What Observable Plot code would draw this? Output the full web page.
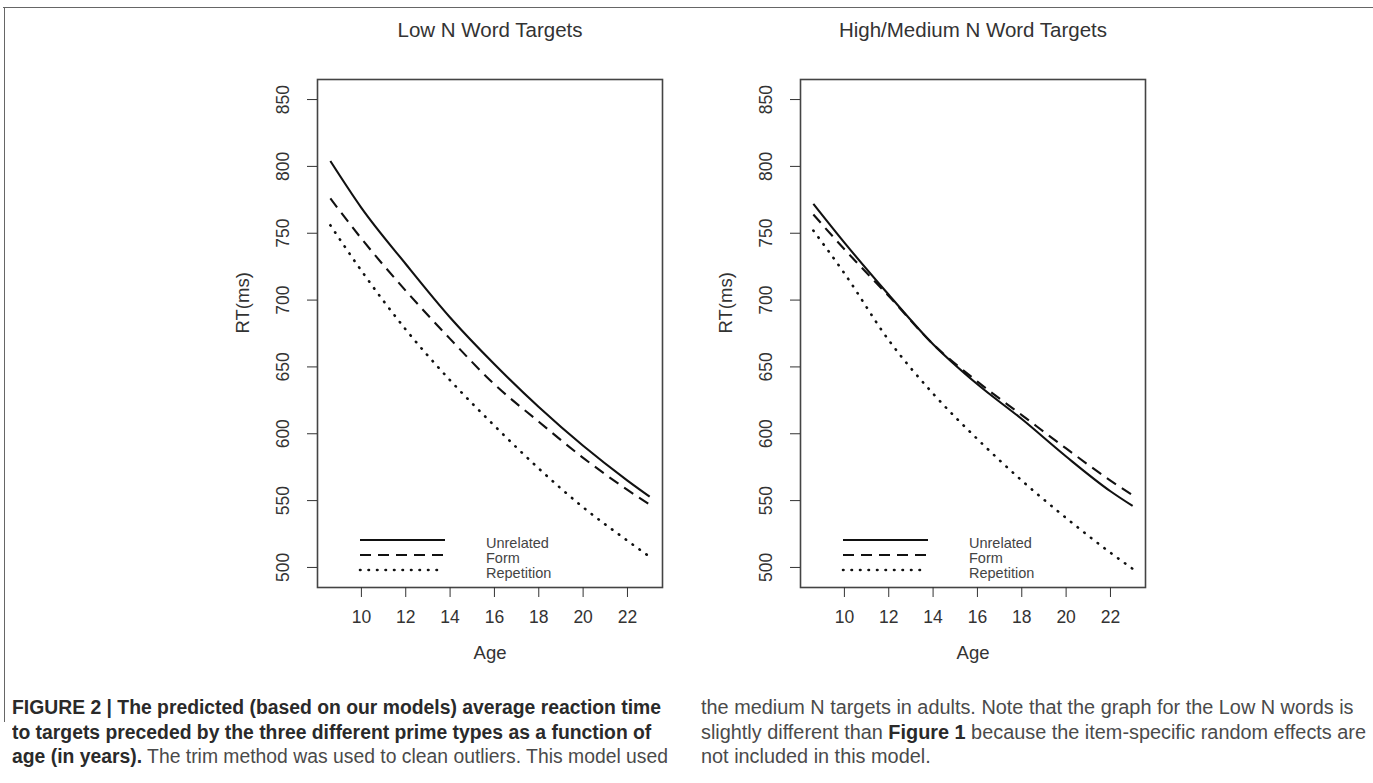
<!DOCTYPE html>
<html>
<head>
<meta charset="utf-8">
<script src="https://cdn.jsdelivr.net/npm/d3@7"></script>
<script src="https://cdn.jsdelivr.net/npm/@observablehq/plot@0.6"></script>
<style>
  html, body { margin: 0; padding: 0; background: #fff; }
  #root { position: relative; width: 1373px; height: 783px; overflow: hidden; background: #fff; font-family: "Liberation Sans", Arial, sans-serif; }
  .panel { position: absolute; top: 0; }
  .legend { position: absolute; top: 0; left: 0; pointer-events: none; }
  .cap { position: absolute; top: 695px; font-family: "Liberation Sans", Arial, sans-serif; font-size: 20px; line-height: 24.5px; color: #4a4a4a; white-space: nowrap; }
  .cap b { color: #2a2a2a; }
  .cap div { transform-origin: 0 0; width: max-content; }
</style>
</head>
<body>
<div id="root">
  <div style="position:absolute;left:3px;top:7px;width:1370px;height:0;border-top:1.6px solid #666"></div>
  <div style="position:absolute;left:4px;top:7px;width:0;height:715px;border-left:1.6px solid #666"></div>
  <div id="left" class="panel" style="left:190px"></div>
  <div id="right" class="panel" style="left:673px"></div>
  <div class="cap" id="capL" style="left:12px">
    <div><b>FIGURE 2 | The predicted (based on our models) average reaction time</b></div>
    <div><b>to targets preceded by the three different prime types as a function of</b></div>
    <div><b>age (in years).</b> The trim method was used to clean outliers. This model used</div>
  </div>
  <div class="cap" id="capR" style="left:701px">
    <div>the medium N targets in adults. Note that the graph for the Low N words is</div>
    <div>slightly different than <b>Figure 1</b> because the item-specific random effects are</div>
    <div>not included in this model.</div>
  </div>
</div>
<script>
// ---- data ----
const ages = [8.6, 10, 12, 14, 16, 18, 20, 22, 23];
const primeTypes = ["Unrelated", "Form", "Repetition"];
const lowUnrelated  = [804, 769, 727, 687, 652, 620, 591, 565, 553];
const lowForm       = [776, 746, 707, 671, 637, 609, 582, 558, 547];
const lowRepetition = [756, 722, 678, 640, 606, 574, 545, 520, 508];
const highUnrelated  = [772, 743, 704, 667, 637, 611, 583, 557, 546];
const highForm       = [764, 738, 703, 667, 639, 614, 589, 565, 554];
const highRepetition = [752, 720, 670, 630, 596, 565, 537, 511, 499];
const xTicks = [10, 12, 14, 16, 18, 20, 22];
const yTicks = [500, 550, 600, 650, 700, 750, 800, 850];
const panelTitles = ["Low N Word Targets", "High/Medium N Word Targets"];

const dash = {Unrelated: null, Form: "11,7", Repetition: "0.5,8"};
const ink = "#111";

function rows(series) {
  const out = [];
  primeTypes.forEach((p, i) => ages.forEach((a, j) => out.push({prime: p, age: a, rt: series[i][j]})));
  return out;
}

function panel(el, title, series) {
  const data = rows(series);
  const marks = [
    Plot.frame({stroke: "#444", strokeWidth: 1.6}),
    Plot.axisX({ticks: xTicks, tickSize: 10, tickPadding: 13, fontSize: 17.5, color: "#333", label: null}),
    Plot.axisY({ticks: yTicks, tickSize: 10, tickPadding: 19, tickRotate: -90, fontSize: 17.5, color: "#333", label: null}),
    Plot.text(["Age"], {frameAnchor: "bottom", dy: 66, lineAnchor: "middle", fontSize: 18.5, fill: "#333"}),
    Plot.text(["RT(ms)"], {frameAnchor: "left", dx: -74, rotate: -90, lineAnchor: "middle", fontSize: 18.5, fill: "#333"}),
    Plot.text([title], {frameAnchor: "top", dy: -49, lineAnchor: "middle", fontSize: 20.5, fill: "#333"})
  ];
  for (const p of primeTypes) {
    marks.push(Plot.line(data.filter(d => d.prime === p), {
      x: "age", y: "rt", curve: "monotone-x", stroke: ink,
      strokeWidth: p === "Repetition" ? 2.6 : 2.1,
      strokeDasharray: dash[p], strokeLinecap: p === "Repetition" ? "round" : "butt"
    }));
  }
  const chart = Plot.plot({
    width: 482, height: 680,
    marginLeft: 127, marginRight: 10, marginTop: 79, marginBottom: 93,
    style: {fontFamily: "'Liberation Sans', Arial, sans-serif", background: "transparent", overflow: "visible"},
    x: {domain: [8.02, 23.58]},
    y: {domain: [485, 865]},
    marks
  });
  el.appendChild(chart);

  // legend (R-style, bottom-left inside the box)
  const left = 127, bottom = 587;
  const svg = d3.select(el).append("svg").attr("class", "legend")
    .attr("width", 482).attr("height", 680);
  primeTypes.forEach((p, i) => {
    const y = bottom - 47 + i * 15;
    svg.append("line").attr("x1", left + 43).attr("x2", left + 128)
      .attr("y1", y).attr("y2", y).attr("stroke", ink)
      .attr("stroke-width", p === "Repetition" ? 2.6 : 2.1)
      .attr("stroke-dasharray", dash[p]).attr("stroke-linecap", p === "Repetition" ? "round" : "butt");
    svg.append("text").attr("x", left + 169).attr("y", y + 3).attr("dy", "0.35em")
      .attr("font-size", 14.5).attr("fill", "#444")
      .attr("font-family", "'Liberation Sans', Arial, sans-serif").text(p);
  });
}

panel(document.getElementById("left"), panelTitles[0], [lowUnrelated, lowForm, lowRepetition]);
panel(document.getElementById("right"), panelTitles[1], [highUnrelated, highForm, highRepetition]);

// fit caption columns to their widths (condensed caption face)
function fit(id, target) {
  const lines = [...document.querySelectorAll("#" + id + " div")];
  const w = Math.max(...lines.map(d => d.getBoundingClientRect().width));
  const s = target / w;
  lines.forEach(d => d.style.transform = `scaleX(${s})`);
}
fit("capL", 656);
fit("capR", 665);
</script>
</body>
</html>
